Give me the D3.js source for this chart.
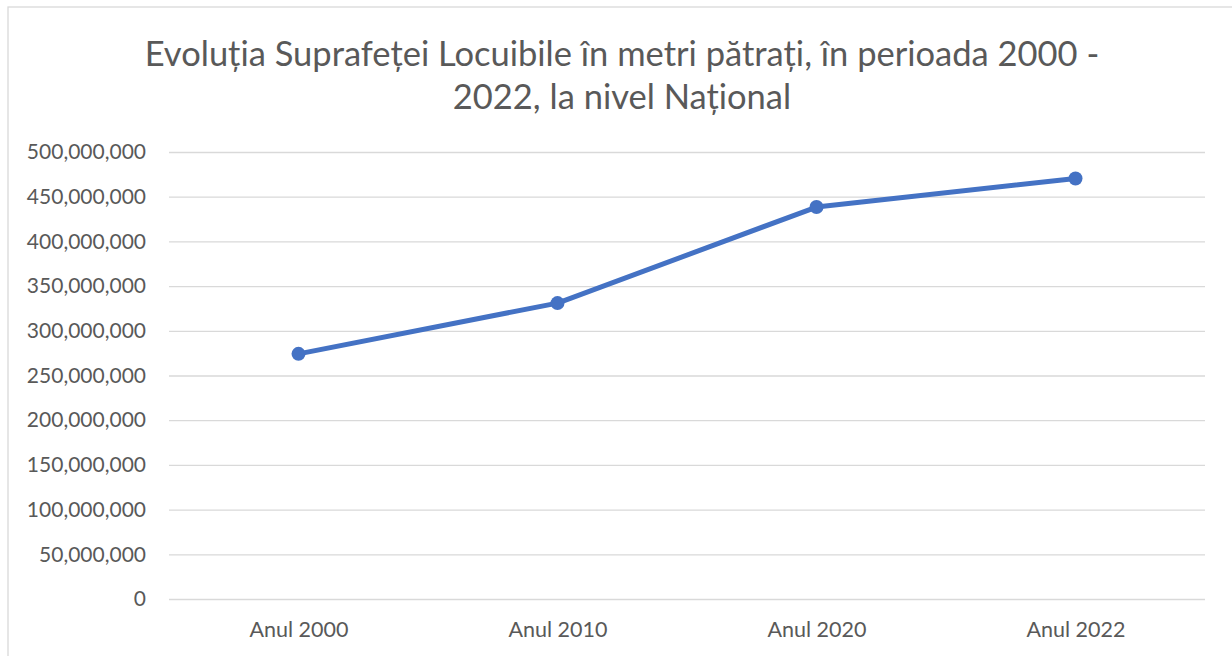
<html>
<head>
<script src="https://d3js.org/d3.v7.min.js"></script>
<style>
  body { margin: 0; background: #fff; }
  .gridlines line { stroke: #d9d9d9; stroke-width: 1.3; }
  .gridlines .domain { stroke: none; }
  text { font-family: Lato, "Open Sans", sans-serif; fill: #595959; }
</style>
</head>
<body>
<svg id="chart" width="1232" height="656"></svg>
<script>
// data
const categories = ['Anul 2000', 'Anul 2010', 'Anul 2020', 'Anul 2022'];
const values = [274200000, 331000000, 438400000, 470400000];
const yTicks = [0, 50000000, 100000000, 150000000, 200000000, 250000000,
                300000000, 350000000, 400000000, 450000000, 500000000];
const titleLines = ['Evoluția Suprafeței Locuibile în metri pătrați, în perioada 2000 -',
                    '2022, la nivel Național'];

const svg = d3.select('svg#chart');
const margins = {top: 152, left: 169, right: 27, bottom: 57};
const width = +svg.attr('width');
const height = +svg.attr('height');
const chartWidth = width - margins.left - margins.right;
const chartHeight = height - margins.top - margins.bottom;

// chart area frame
svg.append('rect')
    .attr('x', 8).attr('y', 7)
    .attr('width', width + 20).attr('height', height + 20)
    .attr('fill', 'none').attr('stroke', '#d9d9d9').attr('stroke-width', 1.3);

const xScale = d3.scalePoint().domain(categories).range([0, chartWidth]).padding(0.5);
const yScale = d3.scaleLinear().domain([0, 500000000]).range([chartHeight, 0]);

const g = svg.append('g').attr('transform', `translate(${margins.left},${margins.top})`);

// horizontal gridlines
g.append('g')
    .attr('class', 'gridlines')
    .call(d3.axisLeft(yScale).tickValues(yTicks).tickSize(-chartWidth).tickFormat(''));

// y labels
const yAxis = g.append('g')
    .call(d3.axisLeft(yScale).tickValues(yTicks).tickSize(0).tickPadding(23)
          .tickFormat(d3.format(',')));
yAxis.select('.domain').remove();
yAxis.selectAll('text').style('font-size', '21px').attr('fill', '#595959')
    .style('font-family', 'Lato, sans-serif');

// x labels
const xAxis = g.append('g')
    .attr('transform', `translate(0,${chartHeight})`)
    .call(d3.axisBottom(xScale).tickSize(0).tickPadding(23));
xAxis.select('.domain').remove();
xAxis.selectAll('text').style('font-size', '21.5px').attr('fill', '#595959')
    .style('font-family', 'Lato, sans-serif');

// line + markers
const line = d3.line()
    .x((d, i) => xScale(categories[i]))
    .y(d => yScale(d));
g.append('path')
    .datum(values)
    .attr('d', line)
    .attr('fill', 'none')
    .attr('stroke', '#4472c4')
    .attr('stroke-width', 5)
    .attr('stroke-linejoin', 'round');
g.selectAll('circle')
    .data(values)
    .enter().append('circle')
    .attr('cx', (d, i) => xScale(categories[i]))
    .attr('cy', d => yScale(d))
    .attr('r', 7)
    .attr('fill', '#4472c4');

// title, sized so the first line spans about the same width as the original
const title = svg.append('text')
    .attr('text-anchor', 'middle')
    .style('font-size', '31px');
title.selectAll('tspan')
    .data(titleLines)
    .enter().append('tspan')
    .attr('x', 622)
    .attr('y', (d, i) => 66 + i * 43)
    .text(d => d);
const w = title.select('tspan').node().getComputedTextLength();
title.style('font-size', (31 * 955 / w) + 'px');
</script>
</body>
</html>
